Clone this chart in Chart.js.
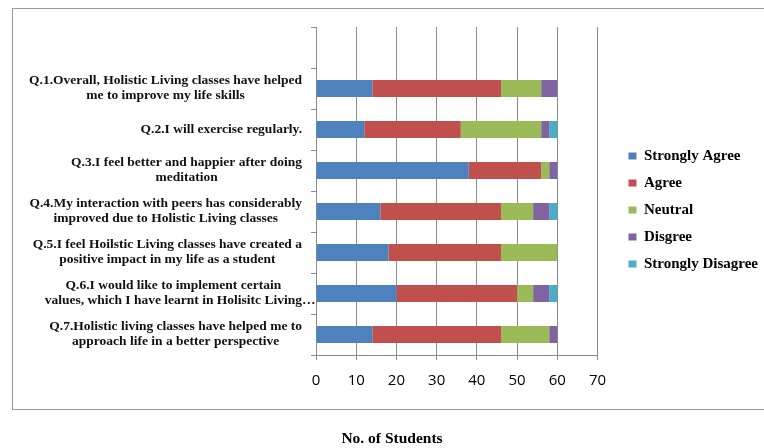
<!DOCTYPE html>
<html>
<head>
<meta charset="utf-8">
<title>Holistic Living survey</title>
<script src="https://cdn.jsdelivr.net/npm/chart.js@4.4.1/dist/chart.umd.min.js"></script>
<style>
    html, body { margin: 0; padding: 0; background: #ffffff; }
    #surveyChart { display: block; }
</style>
</head>
<body>
<canvas id="surveyChart" width="764" height="448"></canvas>
<script>
// Survey questions (each entry is the wrapped label, one string per line)
const questions = [
    ['Q.1.Overall, Holistic Living classes have helped', 'me to improve my life skills'],
    ['Q.2.I will exercise regularly.'],
    ['Q.3.I feel better and happier after doing', 'meditation'],
    ['Q.4.My interaction with peers has considerably', 'improved due to Holistic Living classes'],
    ['Q.5.I feel Hoilstic Living classes have created a', 'positive impact in my life as a student'],
    ['Q.6.I would like to implement certain', 'values, which I have learnt in Holisitc Living…'],
    ['Q.7.Holistic living classes have helped me to', 'approach life in a better perspective']
];

// Number of students per answer, in question order
const stronglyAgree    = [14, 12, 38, 16, 18, 20, 14];
const agree            = [32, 24, 18, 30, 28, 30, 32];
const neutral          = [10, 20,  2,  8, 14,  4, 12];
const disagree         = [ 4,  2,  2,  4,  0,  4,  2];
const stronglyDisagree = [ 0,  2,  0,  2,  0,  2,  0];

const seriesNames = ['Strongly Agree', 'Agree', 'Neutral', 'Disgree', 'Strongly Disagree'];
const seriesColors = ['#4f81bd', '#c0504d', '#9bbb59', '#8064a2', '#4bacc6'];

const xTicks = [0, 10, 20, 30, 40, 50, 60, 70];
const xTitle = 'No. of Students';

const SERIF = "'Liberation Serif', 'Times New Roman', serif";

// The original sheet had an empty row above Q.1, so the axis keeps a blank band there
const labels = [''].concat(questions);
const withBlank = (values) => [null].concat(values);

const seriesValues = [stronglyAgree, agree, neutral, disagree, stronglyDisagree];
const datasets = seriesValues.map((values, i) => ({
    label: seriesNames[i],
    data: withBlank(values),
    backgroundColor: seriesColors[i],
    borderWidth: 0,
    barPercentage: 0.41,
    categoryPercentage: 1
}));

// Outer frame, white background and the axis title under the frame
const framePlugin = {
    id: 'frame',
    beforeDraw(chart) {
        const ctx = chart.ctx;
        ctx.save();
        ctx.fillStyle = '#ffffff';
        ctx.fillRect(0, 0, chart.width, chart.height);
        ctx.strokeStyle = '#9a9a9a';
        ctx.lineWidth = 1;
        ctx.strokeRect(12.5, 8.5, 800, 401);
        ctx.restore();
    },
    afterDraw(chart) {
        const ctx = chart.ctx;
        ctx.save();
        ctx.font = `bold 15.5px ${SERIF}`;
        ctx.fillStyle = '#000000';
        ctx.textAlign = 'center';
        ctx.textBaseline = 'middle';
        ctx.fillText(xTitle, 392, 439);
        ctx.restore();
    }
};

// Question labels: block right aligned next to the axis, lines centred inside the block
const questionLabelPlugin = {
    id: 'questionLabels',
    afterDraw(chart) {
        const ctx = chart.ctx;
        const yScale = chart.scales.y;
        const right = 302;
        const lineHeight = 15;
        ctx.save();
        ctx.font = `bold 13.5px ${SERIF}`;
        ctx.fillStyle = '#111111';
        ctx.textAlign = 'left';
        ctx.textBaseline = 'middle';
        chart.data.labels.forEach((label, i) => {
            if (!label || !label.length) return;
            const lines = Array.isArray(label) ? label : [label];
            // a truncated line overflows with its ellipsis, like the spreadsheet does
            const widths = lines.map(line => ctx.measureText(line.replace(/…$/, '')).width);
            const blockWidth = Math.max(...widths);
            const centerX = right - blockWidth / 2;
            const centerY = yScale.getPixelForTick(i);
            const startY = centerY - (lines.length - 1) * lineHeight / 2;
            lines.forEach((line, j) => {
                ctx.fillText(line, centerX - widths[j] / 2, startY + j * lineHeight);
            });
        });
        ctx.restore();
    }
};

const ctx = document.getElementById('surveyChart').getContext('2d');

new Chart(ctx, {
    type: 'bar',
    data: {
        labels: labels,
        datasets: datasets
    },
    plugins: [framePlugin, questionLabelPlugin],
    options: {
        indexAxis: 'y',
        responsive: false,
        animation: false,
        layout: {
            padding: { left: 0, right: -4, top: 27, bottom: 0 }
        },
        scales: {
            x: {
                stacked: true,
                min: 0,
                max: 70,
                afterBuildTicks: (scale) => {
                    scale.ticks = xTicks.map(v => ({ value: v }));
                },
                afterFit: (scale) => { scale.height = 93; },
                grid: {
                    color: '#8c8c8c',
                    lineWidth: 1,
                    drawTicks: true,
                    tickLength: 5
                },
                border: { display: true, color: '#8c8c8c', width: 1 },
                ticks: {
                    padding: 12,
                    color: '#000000',
                    font: { family: "'Open Sans', sans-serif", size: 15 }
                }
            },
            y: {
                stacked: true,
                afterFit: (scale) => { scale.width = 316; },
                grid: {
                    drawOnChartArea: false,
                    drawTicks: true,
                    tickLength: 5,
                    color: '#8c8c8c',
                    offset: true
                },
                border: { display: true, color: '#8c8c8c', width: 1 },
                ticks: { display: false }
            },
            // empty box that keeps the legend a little away from the plot
            gap: {
                type: 'linear',
                position: 'right',
                display: true,
                grid: { display: false },
                border: { display: false },
                ticks: { display: false },
                afterFit: (scale) => { scale.width = 19; }
            }
        },
        plugins: {
            legend: {
                position: 'right',
                align: 'start',
                maxWidth: 200,
                title: {
                    display: true,
                    text: '',
                    font: { size: 1, lineHeight: 1 },
                    padding: { top: 108.5, bottom: 0 }
                },
                labels: {
                    boxWidth: 8,
                    boxHeight: 7,
                    padding: 12,
                    color: '#000000',
                    font: { family: SERIF, size: 15, weight: 'bold' }
                }
            },
            tooltip: { enabled: false }
        }
    }
});
</script>
</body>
</html>
